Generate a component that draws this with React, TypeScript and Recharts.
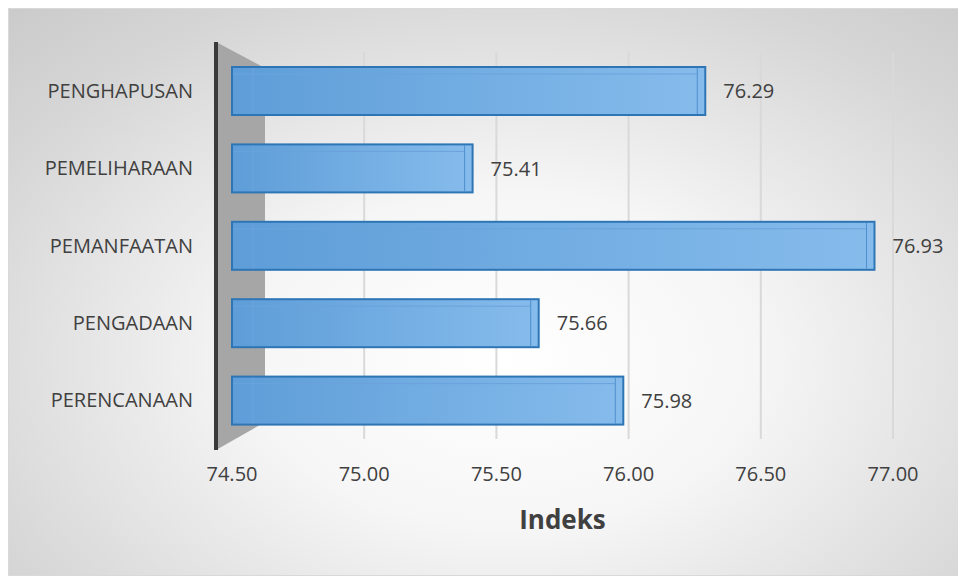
import React from "react";
import {
  BarChart,
  Bar,
  XAxis,
  YAxis,
  CartesianGrid,
  LabelList,
  usePlotArea,
} from "recharts";

const categories = [
  "PENGHAPUSAN",
  "PEMELIHARAAN",
  "PEMANFAATAN",
  "PENGADAAN",
  "PERENCANAAN",
];
const indeks = [76.29, 75.41, 76.93, 75.66, 75.98];
const xTicks = [74.5, 75, 75.5, 76, 76.5, 77];

const data = categories.map((name, i) => ({ name, indeks: indeks[i] }));

const textColor = "#404040";
const font = "'Open Sans', 'DejaVu Sans', sans-serif";

// grey side wall + dark axis post of the 3D chart
function SideWall() {
  const area = usePlotArea();
  if (!area) return null;
  const { x, y, height: h } = area;
  return (
    <g>
      <polygon
        points={`${x - 16},${y - 10} ${x + 33},${y + 16} ${x + 33},${y + h - 17} ${x - 16},${y + h + 11}`}
        fill="#a6a6a6"
      />
      <line
        x1={x - 16}
        y1={y - 10}
        x2={x - 16}
        y2={y + h + 11}
        stroke="#3a3a3a"
        strokeWidth={4}
      />
    </g>
  );
}

function Bar3D(props: any) {
  const { x, y, width, height } = props;
  const d = 21;
  return (
    <g>
      <rect
        x={x}
        y={y}
        width={width}
        height={height}
        fill="url(#barFill)"
        stroke="#2e75b6"
        strokeWidth={2}
      />
      <line x1={x + d} y1={y + 1} x2={x + d} y2={y + height - 1} stroke="#6aa3db" strokeWidth={1} />
      <line x1={x + 1} y1={y + 7} x2={x + width - 8} y2={y + 7} stroke="#6aa3db" strokeWidth={1} />
      <line
        x1={x + width - 8}
        y1={y + 1}
        x2={x + width - 8}
        y2={y + height - 1}
        stroke="#4f8fcf"
        strokeWidth={1}
      />
    </g>
  );
}

export default function App() {
  return (
    <div
      style={{
        width: 956,
        height: 566,
        border: "1px solid #d9d9d9",
        background:
          "radial-gradient(ellipse 75% 85% at 52% 62%, #ffffff 0%, #f6f6f6 35%, #d6d6d6 80%, #cbcbcb 100%)",
        fontFamily: font,
      }}
    >
      <BarChart
        width={956}
        height={566}
        data={data}
        layout="vertical"
        margin={{ top: 43, right: 72, bottom: 36, left: 0 }}
        barSize={48}
      >
        <defs>
          <linearGradient id="barFill" x1="0" y1="0" x2="1" y2="0">
            <stop offset="0%" stopColor="#5e9dd8" />
            <stop offset="100%" stopColor="#86bcec" />
          </linearGradient>
        </defs>
        <SideWall />
        <CartesianGrid horizontal={false} stroke="#d9d9d9" strokeWidth={2} />
        <XAxis
          type="number"
          domain={[74.5, 77]}
          ticks={xTicks}
          tickFormatter={(v: number) => v.toFixed(2)}
          axisLine={false}
          tickLine={false}
          tickSize={0}
          tickMargin={28}
          height={100}
          tick={{ fill: textColor, fontSize: 20, fontFamily: font }}
          label={{
            value: "Indeks",
            position: "insideBottom",
            offset: 10,
            fill: textColor,
            fontSize: 26,
            fontWeight: 700,
            fontFamily: font,
          }}
        />
        <YAxis
          type="category"
          dataKey="name"
          width={223}
          axisLine={false}
          tickLine={false}
          tickSize={0}
          tickMargin={39}
          tick={{ fill: textColor, fontSize: 20, fontFamily: font }}
        />
        <Bar dataKey="indeks" shape={<Bar3D />} isAnimationActive={false}>
          <LabelList
            dataKey="indeks"
            position="right"
            offset={18}
            fill={textColor}
            fontSize={20}
            fontFamily={font}
            formatter={(v: any) => Number(v).toFixed(2)}
          />
        </Bar>
      </BarChart>
    </div>
  );
}
